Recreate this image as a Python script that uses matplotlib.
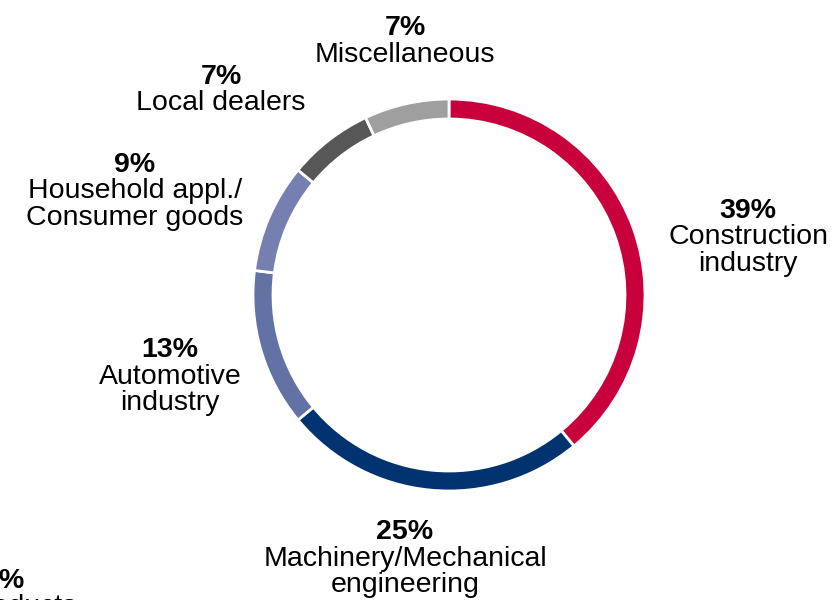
import matplotlib.pyplot as plt

plt.rcParams['font.family'] = ['Liberation Sans', 'DejaVu Sans']

# share of sales by customer industry (clockwise from 12 o'clock)
segments = ['Construction industry', 'Machinery/Mechanical engineering',
            'Automotive industry', 'Household appl./Consumer goods',
            'Local dealers', 'Miscellaneous']
shares = [39, 25, 13, 9, 7, 7]
colors = ['#c8003c', '#00336f', '#6272a4', '#7580b1', '#575757', '#9f9f9f']

# label text: percent line + description lines
pct_labels = ['39%', '25%', '13%', '9%', '7%', '7%']
desc_labels = [
    ['Construction', 'industry'],
    ['Machinery/Mechanical', 'engineering'],
    ['Automotive', 'industry'],
    ['Household appl./', 'Consumer goods'],
    ['Local dealers'],
    ['Miscellaneous'],
]
# label anchor (x centre, baseline of the percent line) in pixels
label_pos = [(748, 218), (405, 539), (170, 357), (135, 172), (221, 84), (405, 35)]

W, H = 835, 600
LINE = 26.5
FS = 20.5

fig = plt.figure(figsize=(W / 100, H / 100), dpi=100)
ax = fig.add_axes([0, 0, 1, 1])

# y axis is inverted below, so counterclock in data = clockwise on screen
ax.pie(shares, colors=colors, startangle=-90, counterclock=True,
       center=(449, 295), radius=196,
       wedgeprops=dict(width=20, edgecolor='white', linewidth=2))

for pct, desc, (x, y) in zip(pct_labels, desc_labels, label_pos):
    ax.text(x, y, pct, ha='center', va='baseline', fontsize=FS, fontweight='bold')
    for i, line in enumerate(desc):
        ax.text(x, y + LINE * (i + 1), line, ha='center', va='baseline', fontsize=FS)

# label of a neighbouring chart, cut off at the lower left edge
ax.text(24, 588, '5%', ha='right', va='baseline', fontsize=FS, fontweight='bold')
ax.text(77, 614, 'Products', ha='right', va='baseline', fontsize=FS)

ax.set_xlim(0, W)
ax.set_ylim(H, 0)
ax.set_aspect('equal')
ax.axis('off')

fig.savefig('out.png', dpi=100)
